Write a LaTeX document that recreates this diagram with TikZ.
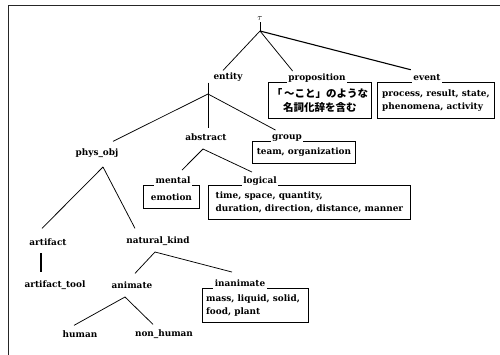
\documentclass[tikz,border=0pt]{standalone}
\usepackage{fontspec}
\setmainfont{DejaVu Serif}
\newfontfamily\jp{Noto Sans CJK JP}
\usetikzlibrary{calc}
\begin{document}
\begin{tikzpicture}[x=1pt,y=-1pt,
  txt/.style={font=\fontsize{8.9}{13.5}\selectfont\bfseries},
  lbl/.style={txt, inner sep=1pt},
  edge/.style={line width=0.75pt},
  thick edge/.style={line width=1.5pt},
  box/.style={txt, draw, line width=0.9pt, inner sep=2pt, anchor=north west, align=left},
  ttl/.style={txt, fill=white, inner sep=1.5pt, text depth=2pt, anchor=base},
  frame/.style={line width=0.8pt, black!85}]
\useasboundingbox (0,0) rectangle (500,355);
\draw[frame] (500,5) -- (8,5) -- (8,355);

% tree labels
\node[lbl] (top) at (260,19) {$\tau$};
\node[lbl] (entity) at (228,77) {entity};
\node[lbl] (abstract) at (206,137) {abstract};
\node[lbl] (phys) at (97,153) {phys\_obj};
\node[lbl] (artifact) at (48,242) {artifact};
\node[lbl] (natural) at (158,241) {natural\_kind};
\node[lbl] (tool) at (55,285) {artifact\_tool};
\node[lbl] (animate) at (132,285) {animate};
\node[lbl] (human) at (80,334) {human};
\node[lbl] (nonhuman) at (164,334) {non\_human};

% boxes
\node[box, align=center, minimum width=103pt, minimum height=36pt] (prop) at (268,82)
  {\jp\fontsize{10.5}{18}\selectfont\bfseries 「\,～こと」のような\\ \jp\fontsize{10.5}{18}\selectfont\bfseries 名詞化辞を含む};
\node[box, minimum width=117pt, minimum height=36pt] (event) at (377,82)
  {process, result, state,\\ phenomena, activity};
\node[box, minimum width=103pt, minimum height=22pt] (group) at (252,141)
  {team, organization};
\node[box, minimum width=56pt, minimum height=23pt] (mental) at (143,185)
  {emotion};
\node[box, minimum width=202pt, minimum height=34pt] (logical) at (208,185)
  {time, space, quantity,\hspace*{7.6em}\\ duration, direction, distance, manner};
\node[box, minimum width=106pt, minimum height=34pt] (inanimate) at (202,288)
  {mass, liquid, solid,\\ food, plant\hspace*{5em}};

% box titles
\node[ttl] (ptitle) at (317,80.5) {proposition};
\node[ttl] (etitle) at (427,80.5) {event};
\node[ttl] (gtitle) at (287,139.5) {group};
\node[ttl] (mtitle) at (173,183.5) {mental};
\node[ttl] (ltitle) at (260,183.5) {logical};
\node[ttl] (ititle) at (240,286.5) {inanimate};

% junctions
\coordinate (j-top) at (260,31);
\coordinate (j-entity) at (208,94);
\coordinate (j-abs) at (203,149);
\coordinate (j-phys) at (103,167);
\coordinate (j-art) at (41,253);
\coordinate (j-nat) at (155,252);
\coordinate (j-anim) at (125,297);

% connectors
\draw[edge] (top.south) -- (j-top);
\draw[edge] (j-top) -- ($(entity.north)+(-5,-1)$);
\draw[edge] (j-top) -- ($(ptitle.north west)+(6,-1)$);
\draw[edge, line width=1.1pt] (j-top) -- ($(etitle.north west)+(-1,-3)$);

\draw[edge] (entity.south) ++(-20,0) -- (j-entity);
\draw[edge] (j-entity) -- ($(phys.north)+(16,-6)$);
\draw[edge] (j-entity) -- ($(abstract.north)+(2,-4)$);
\draw[edge] (j-entity) -- ($(gtitle.north west)+(5,-3)$);

\draw[edge] (j-abs) -- ($(mtitle.north)+(9,-5)$);
\draw[edge] (j-abs) -- ($(ltitle.north)+(-8,-3)$);

\draw[edge] (j-phys) -- ($(artifact.north)+(-6,-9)$);
\draw[edge] (j-phys) -- ($(natural.north)+(-23,-7)$);

\draw[thick edge] (j-art) -- ($(tool.north)+(-14,-7)$);

\draw[edge] (j-nat) -- ($(animate.north)+(3,-7)$);
\draw[edge] (j-nat) -- ($(ititle.north)+(-8,-6)$);

\draw[edge] (j-anim) -- ($(human.north)+(-6,-4)$);
\draw[edge] (j-anim) -- ($(nonhuman.north)+(-11,-4)$);
\end{tikzpicture}
\end{document}
